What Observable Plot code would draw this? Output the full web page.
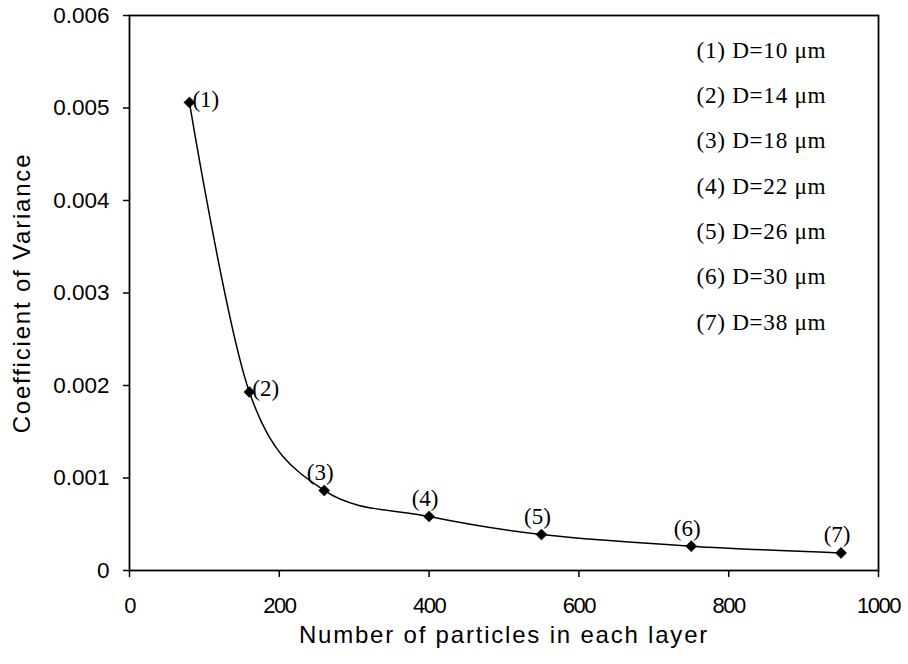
<!DOCTYPE html>
<html>
<head>
<meta charset="utf-8">
<script src="https://cdn.jsdelivr.net/npm/d3@7"></script>
<script src="https://cdn.jsdelivr.net/npm/@observablehq/plot@0.6"></script>
<style>
  body { margin: 0; background: #fff; }
</style>
</head>
<body>
<div id="chart"></div>
<script>
// ---- data ----
const particles = [80, 160, 260, 400, 550, 750, 950];
const cov = [0.00506, 0.00193, 0.000865, 0.000584, 0.000389, 0.000263, 0.00019];
const pointLabels = ["(1)", "(2)", "(3)", "(4)", "(5)", "(6)", "(7)"];
const legendLines = [
  "(1) D=10 μm",
  "(2) D=14 μm",
  "(3) D=18 μm",
  "(4) D=22 μm",
  "(5) D=26 μm",
  "(6) D=30 μm",
  "(7) D=38 μm"
];
const xTicks = [0, 200, 400, 600, 800, 1000];
const yTicks = [0, 0.001, 0.002, 0.003, 0.004, 0.005, 0.006];
const xTitle = "Number of particles in each layer";
const yTitle = "Coefficient of Variance";

const sans = "'Liberation Sans', Arial, Helvetica, sans-serif";
const serif = "'Liberation Serif', 'Times New Roman', Times, serif";

const data = particles.map((x, i) => ({x, y: cov[i], label: pointLabels[i]}));

const chart = Plot.plot({
  width: 908,
  height: 664,
  marginLeft: 129,
  marginRight: 30,
  marginTop: 15,
  marginBottom: 94,
  style: {fontFamily: sans, background: "white", color: "black", overflow: "visible"},
  x: {domain: [0, 1000]},
  y: {domain: [0, 0.006]},
  marks: [
    Plot.axisX({ticks: xTicks, tickSize: 7, tickPadding: 20, strokeWidth: 1.5,
      tickFormat: d => String(d), fontSize: 22, label: null}),
    Plot.axisY({ticks: yTicks, tickSize: 6, tickPadding: 14, strokeWidth: 1.5,
      tickFormat: d => d === 0 ? "0" : d.toFixed(3), fontSize: 22.5, label: null}),
    Plot.frame({stroke: "black", strokeWidth: 1.8}),
    Plot.line(data, {x: "x", y: "y", curve: "cardinal", stroke: "black", strokeWidth: 1.5}),
    Plot.dot(data, {x: "x", y: "y", symbol: "diamond2", r: 5, fill: "black", stroke: "black", strokeWidth: 0.5}),
    Plot.text(data.slice(0, 2), {x: "x", y: "y", text: "label", textAnchor: "start",
      dx: 3, dy: -3, fontFamily: serif, fontSize: 23, fill: "black"}),
    Plot.text(data.slice(2), {x: "x", y: "y", text: "label", textAnchor: "middle",
      dx: -4, dy: -18, fontFamily: serif, fontSize: 23, fill: "black"}),
    Plot.text([legendLines.join("\n")], {frameAnchor: "top-left", textAnchor: "start",
      lineAnchor: "top", lineHeight: 1.953, dx: 567, dy: 10,
      fontFamily: serif, fontSize: 23.2, fill: "black"}),
    Plot.text([yTitle], {frameAnchor: "left", textAnchor: "middle", lineAnchor: "middle",
      rotate: -90, dx: -107,
      fontFamily: sans, fontSize: 24, fill: "black"}),
    Plot.text([xTitle], {frameAnchor: "bottom", textAnchor: "middle", lineAnchor: "middle",
      dy: 65, fontFamily: sans, fontSize: 24, fill: "black"})
  ]
});

document.getElementById("chart").appendChild(chart);

// text spacing tweaks to mimic the reference rendering
const svg = d3.select(chart);
svg.selectAll('g[aria-label="x-axis tick label"] text').style("letter-spacing", "-1.5px");
svg.selectAll('g[aria-label="text"]').each(function() {
  const g = d3.select(this);
  const ff = g.attr("font-family") || "";
  const fs = +(g.attr("font-size") || 0);
  if (ff.includes("Serif")) {
    if (fs > 23) g.selectAll("text").style("letter-spacing", "0.7px");
  } else {
    g.selectAll("text").style("letter-spacing", "1.8px");
  }
});
</script>
</body>
</html>
